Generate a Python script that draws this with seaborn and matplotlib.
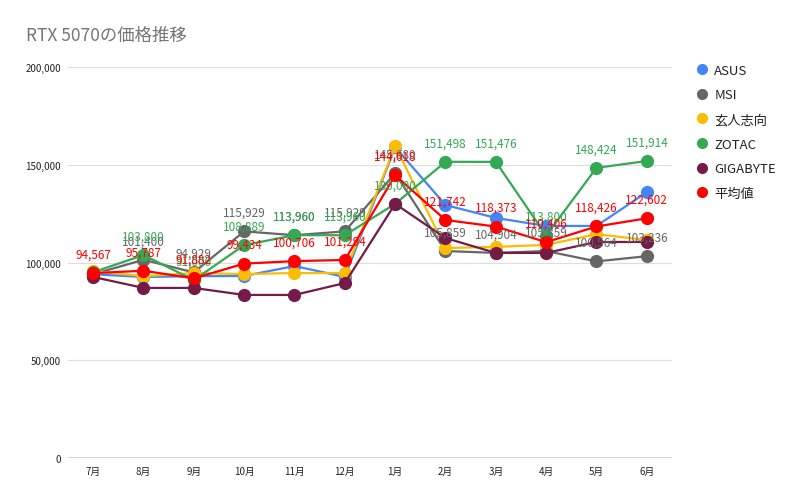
import pandas as pd
import seaborn as sns
import matplotlib.pyplot as plt
from matplotlib.lines import Line2D
from matplotlib.ticker import FuncFormatter

months = ['7月', '8月', '9月', '10月', '11月', '12月', '1月', '2月', '3月', '4月', '5月', '6月']
makers = ['ASUS', 'MSI', '玄人志向', 'ZOTAC', 'GIGABYTE', '平均値']

asus = [94000, 92600, 93000, 93100, 98200, 92600, 159000, 129400, 122800, 118700, 118700, 136000]
msi = [94000, 101400, 94929, 115929, 113960, 115929, 145680, 105859, 104904, 105859, 100564, 103236]
kuroto = [95600, 93000, 94600, 94100, 94600, 94600, 159600, 107400, 108000, 109000, 114500, 111500]
zotac = [95000, 103800, 91000, 108889, 113960, 113960, 130000, 151498, 151476, 113800, 148424, 151914]
gigabyte = [92600, 87000, 87000, 83400, 83400, 89500, 130000, 112500, 104900, 104900, 110500, 110500]
average = [94567, 95787, 91882, 99434, 100706, 101294, 144618, 121742, 118373, 110406, 118426, 122602]

# which series carry data labels (None = label hidden in the original)
msi_labels = [None] + msi[1:]
zotac_labels = [None] + zotac[1:]
average_labels = average

colors = {'ASUS': '#4285F4', 'MSI': '#666666', '玄人志向': '#FBBC04',
          'ZOTAC': '#34A853', 'GIGABYTE': '#741B47', '平均値': '#FF0000'}

series = [asus, msi, kuroto, zotac, gigabyte, average]
df = pd.DataFrame([
    {'month': m, 'price': v, 'maker': name}
    for name, vals in zip(makers, series)
    for m, v in zip(months, vals)
])

sns.set_style('white')
plt.rcParams['font.family'] = ['Noto Sans CJK JP', 'DejaVu Sans']

fig = plt.figure(figsize=(8.12, 5.02), dpi=100)
ax = fig.add_axes([68 / 812, 1 - 459 / 502, (672 - 68) / 812, (459 - 68) / 502])

sns.lineplot(data=df, x='month', y='price', hue='maker', hue_order=makers,
             palette=colors, marker='o', markersize=9.5, markeredgewidth=0,
             linewidth=1.6, sort=False, legend=False, ax=ax)

# data labels
for name, labels in [('MSI', msi_labels), ('ZOTAC', zotac_labels), ('平均値', average_labels)]:
    for i, v in enumerate(labels):
        if v is None:
            continue
        ax.annotate(f'{v:,}', (i, v), xytext=(0, 9), textcoords='offset points',
                    ha='center', va='bottom', fontsize=8.5, color=colors[name])

ax.set_xlim(-0.5, 11.5)
ax.set_ylim(0, 200000)
ax.set_yticks([0, 50000, 100000, 150000, 200000])
ax.yaxis.set_major_formatter(FuncFormatter(lambda y, _: f'{int(y):,}'))
ax.grid(axis='y', color='#dddddd', linewidth=0.8)
ax.grid(axis='x', visible=False)
ax.axhline(0, color='#333333', linewidth=1)
for s in ax.spines.values():
    s.set_visible(False)
ax.tick_params(axis='both', length=0, labelsize=7, colors='#222222')
ax.tick_params(axis='y', pad=5)
ax.tick_params(axis='x', pad=6)
ax.set_xlabel('')
ax.set_ylabel('')

fig.text(26 / 812, 1 - 36 / 502, 'RTX 5070の価格推移', fontsize=12.5,
         color='#757575', va='center', ha='left')

handles = [Line2D([], [], marker='o', linestyle='none', markersize=8,
                  markerfacecolor=colors[n], markeredgewidth=0) for n in makers]
fig.legend(handles, makers, loc='upper left', bbox_to_anchor=(684 / 812, 1 - 53 / 502),
           frameon=False, fontsize=9.5, labelspacing=0.88, handletextpad=0.4,
           handlelength=1.0, labelcolor='#222222')

fig.savefig('out.png', dpi=100)
